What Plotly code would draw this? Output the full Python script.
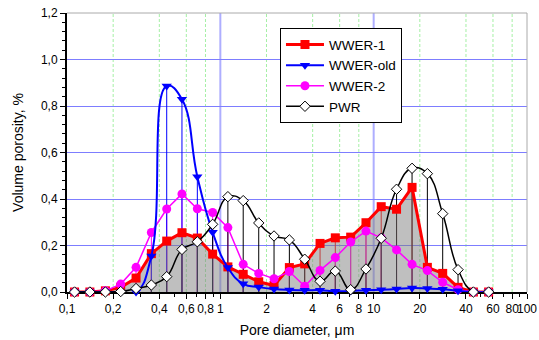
import plotly.graph_objects as go

# Pore diameter bin centres, µm
diameter = [0.112, 0.141, 0.178, 0.224, 0.282, 0.355, 0.447, 0.562, 0.708, 0.891,
            1.12, 1.41, 1.78, 2.24, 2.82, 3.55, 4.47, 5.62, 7.08, 8.91,
            11.2, 14.1, 17.8, 22.4, 28.2, 35.5, 44.7, 56.2]

wwer1 = [0, 0, 0.005, 0.02, 0.06, 0.165, 0.219, 0.255, 0.232, 0.163,
         0.108, 0.076, 0.044, 0.028, 0.105, 0.121, 0.209, 0.233, 0.236, 0.298,
         0.367, 0.356, 0.45, 0.106, 0.08, 0.02, 0, 0]

wwer_old = [0, 0, 0, 0, 0, 0.155, 0.886, 0.829, 0.496, 0.257,
            0.105, 0.035, 0.021, 0.013, 0.009, 0.007, 0.008, 0.003, 0.004, 0.008,
            0.01, 0.013, 0.017, 0.015, 0.012, 0.005, 0, 0]

wwer2 = [0, 0, 0.005, 0.034, 0.106, 0.256, 0.357, 0.422, 0.358, 0.342,
         0.277, 0.119, 0.08, 0.057, 0.088, 0.025, 0.093, 0.148, 0.215, 0.262,
         0.233, 0.181, 0.119, 0.092, 0.042, 0.01, 0, 0]

pwr = [0, 0, 0, 0.002, 0.015, 0.03, 0.066, 0.183, 0.216, 0.291,
       0.41, 0.393, 0.297, 0.241, 0.224, 0.141, 0.046, 0.09, 0.01, 0.099,
       0.231, 0.442, 0.532, 0.509, 0.337, 0.096, 0, 0]

x_tick_vals = [0.1, 0.2, 0.4, 0.6, 0.8, 1, 2, 4, 6, 8, 10, 20, 40, 60, 80, 100]
x_tick_text = ["0,1", "0,2", "0,4", "0,6", "0,8", "1", "2", "4", "6", "8",
               "10", "20", "40", "60", "80", "100"]
x_minor_vals = [0.3, 0.5, 0.7, 0.9, 3, 5, 7, 9, 30, 50, 70, 90]
green_grid = [0.2, 0.4, 0.6, 0.8, 2, 4, 6, 8, 20, 40, 60, 80]
blue_grid = [1, 10]

FONT = "Liberation Sans, Arial, sans-serif"

# name, values, colour, symbol, line width, shape, marker size, legend rank
series = [
    ("WWER-1", wwer1, "#FF0000", "square", 3, "linear", 9, 1),
    ("WWER-2", wwer2, "#FF00FF", "circle", 1.5, "linear", 9, 3),
    ("WWER-old", wwer_old, "#0000FF", "triangle-down", 2, "spline", 9, 2),
    ("PWR", pwr, "#000000", "diamond", 1.5, "spline", 8, 4),
]

fig = go.Figure()

# drop lines
for name, vals, col, sym, lw, shp, ms, rank in series:
    xs, ys = [], []
    for xv, yv in zip(diameter, vals):
        xs += [xv, xv, None]
        ys += [0, yv, None]
    fig.add_trace(go.Scatter(x=xs, y=ys, mode="lines",
                             line=dict(color=col, width=1),
                             showlegend=False, hoverinfo="skip"))

# gray area under WWER-1
fig.add_trace(go.Scatter(x=diameter, y=wwer1, mode="none", fill="tozeroy",
                         fillcolor="rgba(128,128,128,0.5)",
                         showlegend=False, hoverinfo="skip"))

for name, vals, col, sym, lw, shp, ms, rank in series:
    if name == "PWR":
        marker = dict(symbol=sym, size=ms, color="white",
                      line=dict(color="black", width=1))
    else:
        marker = dict(symbol=sym, size=ms, color=col, line=dict(width=0))
    fig.add_trace(go.Scatter(x=diameter, y=vals, mode="lines+markers", name=name,
                             line=dict(color=col, width=lw, shape=shp, smoothing=1.3),
                             marker=marker, cliponaxis=False, legendrank=rank))

shapes = []
for v in green_grid:
    shapes.append(dict(type="line", xref="x", yref="paper", x0=v, x1=v, y0=0, y1=1,
                       line=dict(color="rgb(165,240,165)", width=1, dash="3px,2px"),
                       layer="below"))
for v in blue_grid:
    shapes.append(dict(type="line", xref="x", yref="paper", x0=v, x1=v, y0=0, y1=1,
                       line=dict(color="rgba(120,120,255,0.6)", width=2),
                       layer="below"))
# top and right frame
shapes.append(dict(type="line", xref="paper", yref="paper", x0=0, x1=1, y0=1, y1=1,
                   line=dict(color="rgb(170,170,170)", width=1)))
shapes.append(dict(type="line", xref="paper", yref="paper", x0=1, x1=1, y0=0, y1=1,
                   line=dict(color="rgb(170,170,170)", width=1)))

fig.update_layout(
    width=539, height=340,
    margin=dict(l=67, r=12, t=13, b=48),
    paper_bgcolor="white", plot_bgcolor="white",
    separators=", ",
    font=dict(family=FONT, size=12, color="black"),
    shapes=shapes,
    showlegend=True,
    legend=dict(x=0.463, y=0.945, xanchor="left", yanchor="top",
                bgcolor="white", bordercolor="black", borderwidth=1,
                font=dict(family=FONT, size=13.5), tracegroupgap=0,
                itemwidth=38),
    xaxis=dict(type="log", range=[-1, 2], tickmode="array",
               tickvals=x_tick_vals, ticktext=x_tick_text, tickangle=0,
               automargin=False,
               ticks="outside", ticklen=5, tickwidth=1, tickcolor="black",
               showline=True, linecolor="black", linewidth=2,
               showgrid=False, zeroline=False, layer="below traces",
               minor=dict(tickmode="array", tickvals=x_minor_vals, ticks="outside",
                          ticklen=3, tickcolor="black", showgrid=False),
               title=dict(text="Pore diameter, μm", font=dict(size=14), standoff=10),
               tickfont=dict(size=12)),
    yaxis=dict(range=[0, 1.2], dtick=0.2, tick0=0, tickformat=".1f",
               automargin=False,
               ticks="outside", ticklen=5, tickwidth=1, tickcolor="black",
               showline=True, linecolor="black", linewidth=2,
               showgrid=True, gridcolor="rgb(125,125,255)", gridwidth=1,
               zeroline=False, layer="below traces",
               minor=dict(dtick=0.04, ticks="outside", ticklen=3,
                          tickcolor="black", showgrid=False),
               title=dict(text="Volume porosity, %", font=dict(size=14), standoff=14),
               tickfont=dict(size=12)),
)

fig.write_html("out.html", config={"displayModeBar": False},
               post_script="document.body.style.margin='0px';")
